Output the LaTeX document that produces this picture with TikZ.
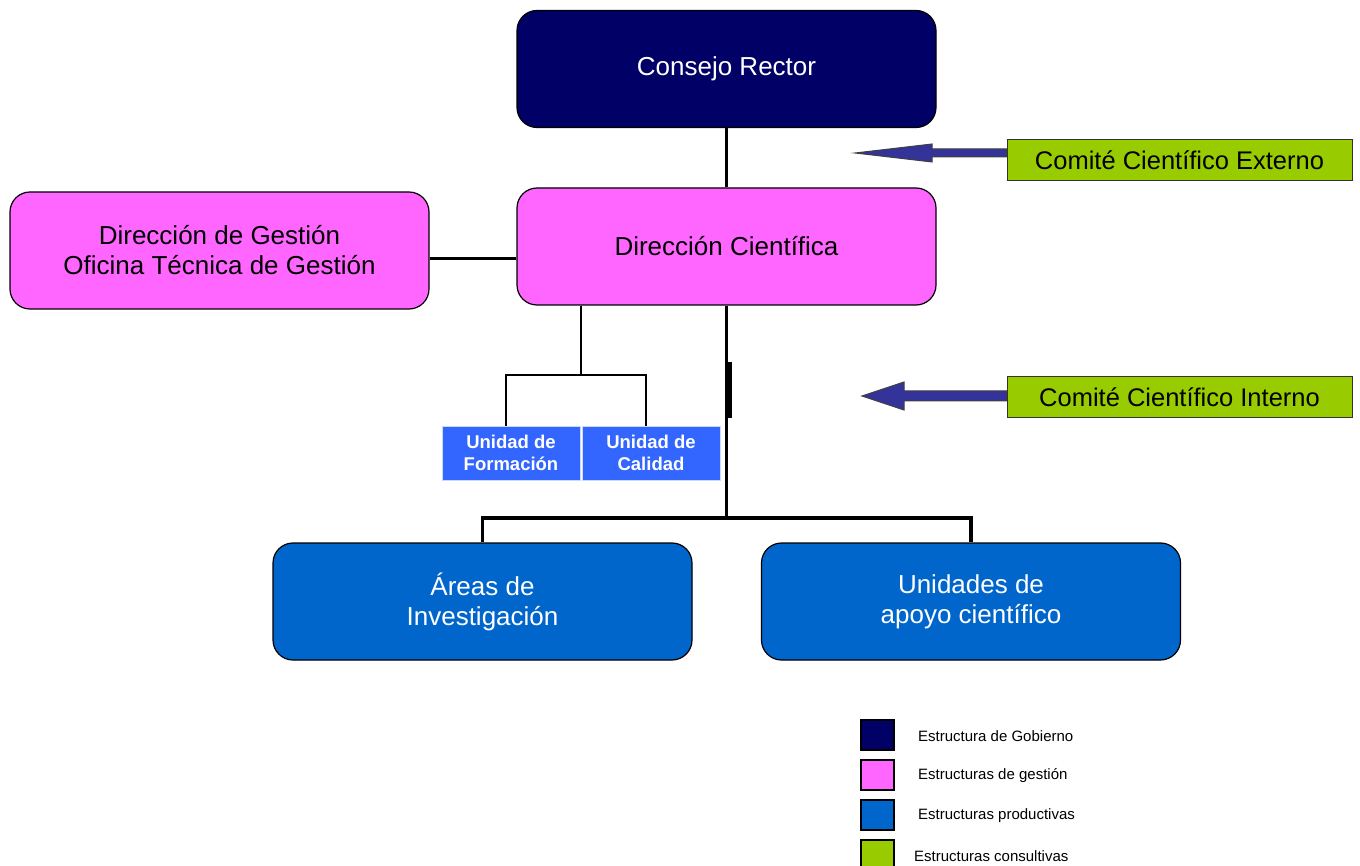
\documentclass[tikz,border=0pt]{standalone}
\usepackage{fontspec}
\setmainfont{Liberation Sans}
\usetikzlibrary{calc}
\definecolor{gobierno}{HTML}{000066}
\definecolor{gestion}{HTML}{FF66FF}
\definecolor{productiva}{HTML}{0066CC}
\definecolor{consultiva}{HTML}{99CC00}
\definecolor{unidad}{HTML}{3366FF}
\definecolor{flecha}{HTML}{333399}
\tikzset{
  bigbox/.style={draw=black, line width=1.2pt, rounded corners=20pt,
    minimum width=419pt, minimum height=117pt, inner sep=0pt,
    align=center, font=\fontsize{26}{30}\selectfont},
  comite/.style={draw=black!80, line width=1pt, fill=consultiva,
    minimum width=345pt, minimum height=41pt, inner sep=0pt,
    font=\fontsize{25.5}{30}\selectfont},
  unidadbox/.style={draw=white!75!unidad, line width=1pt, fill=unidad,
    text=white, minimum width=138pt, minimum height=54pt, inner sep=0pt,
    align=center, font=\fontsize{18.5}{22}\selectfont\bfseries},
  legbox/.style={draw=black, line width=1.2pt, minimum width=33pt,
    minimum height=30pt, inner sep=0pt},
  legtext/.style={anchor=west, inner sep=0pt, font=\fontsize{15}{18}\selectfont},
  trunk/.style={line width=3.5pt},
  twig/.style={line width=1.5pt},
  blockarrow/.style={fill=flecha, draw=black!75, line width=1pt, line join=miter}
}
\begin{document}
\begin{tikzpicture}[x=1pt,y=-1pt]
  \clip (0,0) rectangle (1360,866);
  % gobierno y direccion
  \node[bigbox, fill=gobierno, text=white] (cr) at (726.5,69) {Consejo Rector};
  \node[bigbox, fill=gestion] (dc) at (726.5,246.5) {Dirección Científica};
  \node[bigbox, fill=gestion] (dg) at (219.5,250.5)
    {Dirección de Gestión\\Oficina Técnica de Gestión};
  \draw[trunk] (cr) -- (dc);
  \draw[trunk] ([yshift=-8pt]dg.east) -- ([yshift=-8pt]dg.east -| dc.west);
  % comites
  \node[comite] (ext) at (1179.5,160.5) {Comité Científico Externo};
  \node[comite] (int) at (1179.5,397) {Comité Científico Interno};
  \coordinate (extTip) at (855,153);
  \filldraw[blockarrow]
    (extTip) -- ++(77,-9) -- ++(0,5)
    -- ($(ext.west |- extTip)+(0,-4)$) -- ++(0,8)
    -- ($(extTip)+(77,4)$) -- ++(0,5) -- cycle;
  \coordinate (intTip) at (862,396);
  \filldraw[blockarrow]
    (intTip) -- ++(42,-14) -- ++(0,9)
    -- ($(int.west |- intTip)+(0,-5)$) -- ++(0,10)
    -- ($(intTip)+(42,5)$) -- ++(0,9) -- cycle;
  % unidades de la direccion
  \node[unidadbox] (form) at (511,453) {Unidad de\\Formación};
  \node[unidadbox] (cal) at (651,453) {Unidad de\\Calidad};
  \coordinate (split) at (581,375);
  \draw[twig] (split |- dc.south) -- (split);
  \draw[twig] ([xshift=-5pt]form.north) |- (split) -| ([xshift=-5pt]cal.north);
  % estructuras productivas
  \node[bigbox, fill=productiva, text=white] (areas) at (482.5,601.5)
    {Áreas de\\Investigación};
  \node[bigbox, fill=productiva, text=white] (apoyo) at (971,601.5)
    {Unidades de\\apoyo científico};
  \coordinate (bar) at (726.5,518);
  \draw[trunk] (dc.south) -- (bar);
  \draw[line width=6pt] ([xshift=2.5pt]dc.south |- 0,362) -- ([xshift=2.5pt]dc.south |- 0,418);
  \draw[trunk] (areas.north) |- (bar) -| (apoyo.north);
  % leyenda
  \node[legbox, fill=gobierno] (lg1) at (877.5,735) {};
  \node[legbox, fill=gestion] (lg2) at (877.5,775) {};
  \node[legbox, fill=productiva] (lg3) at (877.5,815) {};
  \node[legbox, fill=consultiva] (lg4) at (877.5,855) {};
  \node[legtext] (lt1) at (918,736) {Estructura de Gobierno};
  \node[legtext] (lt2) at (918,776) {Estructuras de gestión};
  \node[legtext] (lt3) at (918,816) {Estructuras productivas};
  \node[legtext] (lt4) at (914,856) {Estructuras consultivas};
\end{tikzpicture}
\end{document}
